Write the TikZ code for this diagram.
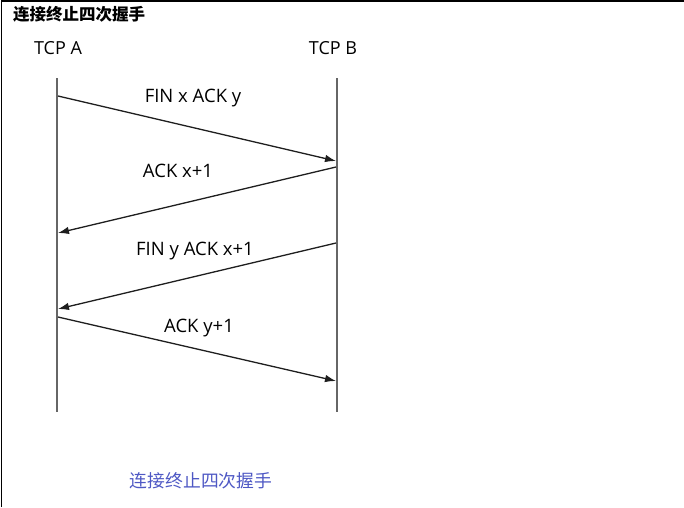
\documentclass[tikz,border=0pt]{standalone}
\usepackage{fontspec}
\usepackage{xcolor}
\usepackage{tikz}
\usetikzlibrary{arrows.meta,positioning,calc}
\setmainfont{Open Sans}
\newfontfamily\cjk{Noto Sans CJK SC}
\definecolor{life}{HTML}{666666}
\definecolor{msg}{HTML}{1E1E1E}
\definecolor{capblue}{HTML}{4E58C4}

\begin{document}
\begin{tikzpicture}[x=1pt,y=-1pt,
  frame/.style={draw=black,line width=1.5pt},
  lifeline/.style={draw=life,line width=2pt},
  host/.style={font=\fontsize{18}{21}\selectfont,inner sep=0pt},
  ar/.style={-{Latex[length=11pt,width=7.5pt]},line width=1.3pt,draw=msg},
  lbl/.style={font=\fontsize{18.5}{22}\selectfont,inner sep=0pt},
  heading/.style={font=\cjk\bfseries\fontsize{16.5}{19}\selectfont,inner sep=0pt,anchor=west},
  caption/.style={font=\cjk\fontsize{17.8}{21}\selectfont,text=capblue,inner sep=0pt}]
\useasboundingbox (0,0) rectangle (684,507);
\draw[frame] (1.5,507) -- (1.5,0.8) -- (684,0.8);
\node[heading] (title) at (13,14) {连接终止四次握手};
\node[host] (ha) at (58,48) {TCP A};
\node[host] (hb) at (333,48) {TCP B};
% lifelines
\coordinate (atop) at (57,78);
\coordinate (abot) at (57,412);
\coordinate (btop) at (337,78);
\coordinate (bbot) at (337,412);
\draw[lifeline] (atop) -- (abot);
\draw[lifeline] (btop) -- (bbot);
% message ends
\coordinate (a1) at (58,96);   \coordinate (b1) at (336,161);
\coordinate (b2) at (336,167); \coordinate (a2) at (58,233);
\coordinate (b3) at (336,243); \coordinate (a3) at (58,309);
\coordinate (a4) at (58,317);  \coordinate (b4) at (336,381);
\draw[ar] (a1) -- (b1);
\draw[ar] (b2) -- (a2);
\draw[ar] (b3) -- (a3);
\draw[ar] (a4) -- (b4);
\node[lbl] (l1) at (193,98) {FIN x ACK y};
\node[lbl] (l2) at (178,171) {ACK x+1};
\node[lbl] (l3) at (195,251) {FIN y ACK x+1};
\node[lbl] (l4) at (199,328) {ACK y+1};
\node[caption] (cap) at (201,481) {连接终止四次握手};
\end{tikzpicture}
\end{document}
